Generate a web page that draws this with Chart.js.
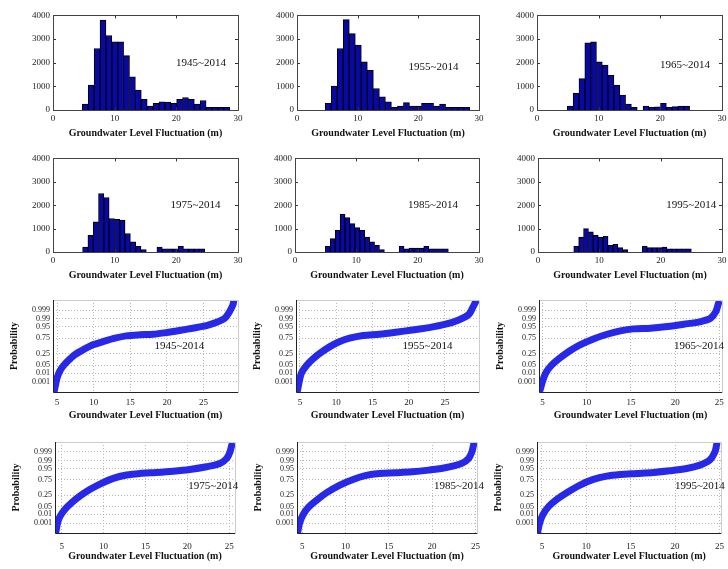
<!DOCTYPE html>
<html>
<head>
<meta charset="utf-8">
<script src="https://cdn.jsdelivr.net/npm/chart.js@4"></script>
<style>
  html, body { margin: 0; padding: 0; background: #fff; overflow: hidden; }
  #wrap { position: relative; width: 728px; height: 569px; background: #fff; }
  .panel { position: absolute; }
</style>
</head>
<body>
<div id="wrap"></div>
<script>
// periods shown in each panel
const periods = ['1945~2014', '1955~2014', '1965~2014', '1975~2014', '1985~2014', '1995~2014'];

// histogram counts (bins spread evenly between the range ends)
const hist1945 = [250, 1050, 2600, 3800, 3150, 2880, 2880, 2300, 1400, 840, 450, 170, 280, 350, 330, 280, 450, 530, 450, 250, 400, 110, 110, 110, 110];
const hist1955 = [280, 1010, 2600, 3820, 3230, 2740, 2040, 1680, 910, 560, 350, 110, 170, 310, 170, 170, 280, 280, 170, 250, 110, 110, 110, 110];
const hist1965 = [170, 700, 1330, 2840, 2880, 2040, 1900, 1470, 1050, 630, 250, 110, 0, 170, 110, 130, 280, 110, 140, 170, 170];
const hist1975 = [210, 710, 1290, 2500, 2330, 1430, 1400, 1360, 790, 430, 240, 100, 0, 0, 210, 140, 140, 140, 240, 140, 140, 140, 140];
const hist1985 = [240, 570, 930, 1610, 1470, 1210, 1040, 930, 640, 430, 290, 100, 0, 0, 0, 240, 140, 170, 170, 170, 240, 140, 140, 140, 140];
const hist1995 = [240, 640, 1000, 860, 710, 640, 670, 290, 330, 190, 100, 0, 0, 0, 240, 190, 190, 190, 210, 140, 140, 140, 140, 140];

const histRange1945 = [4.76, 28.65];
const histRange1955 = [4.65, 28.46];
const histRange1965 = [4.92, 24.75];
const histRange1975 = [4.8, 24.6];
const histRange1985 = [4.95, 25.0];
const histRange1995 = [5.83, 25.0];

const histXTicks = [0, 10, 20, 30];
const histYTicks = [0, 1000, 2000, 3000, 4000];

// normal probability plots: fluctuation (m) vs normal quantile of probability
const prob1945X = [4.59, 4.8, 5.0, 5.36, 5.8, 6.5, 7.4, 8.55, 9.9, 11.3, 12.9, 14.45, 16.3, 18.1, 19.9, 21.7, 23.5, 25.4, 26.7, 27.9, 28.5, 29.0, 29.1];
const prob1945Z = [-3.95, -3.32, -2.75, -2.18, -1.75, -1.27, -0.76, -0.33, 0.10, 0.38, 0.67, 0.87, 0.96, 1.01, 1.15, 1.33, 1.53, 1.75, 2.01, 2.38, 2.9, 3.52, 3.8];
const prob1955X = [4.63, 4.9, 5.2, 5.9, 6.8, 7.97, 9.3, 10.5, 11.85, 13.7, 15.95, 18.2, 20.5, 22.8, 25.1, 26.9, 28.3, 28.9, 29.2];
const prob1955Z = [-3.9, -3.04, -2.32, -1.67, -1.1, -0.53, 0.01, 0.38, 0.67, 0.9, 1.01, 1.18, 1.38, 1.58, 1.87, 2.24, 2.72, 3.38, 3.75];
const prob1965X = [4.68, 5.0, 5.36, 6.0, 6.96, 8.1, 9.24, 10.76, 12.3, 13.8, 15.3, 17.2, 19.1, 21.0, 22.9, 24.0, 24.6, 24.9];
const prob1965Z = [-3.9, -3.04, -2.32, -1.67, -1.04, -0.41, 0.1, 0.61, 1.01, 1.3, 1.47, 1.53, 1.67, 1.87, 2.1, 2.38, 2.95, 3.66];
const prob1975X = [4.3, 4.5, 4.8, 5.4, 6.2, 7.2, 8.4, 9.57, 11.16, 12.75, 14.34, 16.3, 18.3, 20.3, 22.3, 23.9, 24.7, 25.1, 25.3];
const prob1975Z = [-3.89, -3.09, -2.5, -1.88, -1.31, -0.73, -0.16, 0.3, 0.79, 1.08, 1.22, 1.31, 1.42, 1.57, 1.8, 2.08, 2.51, 3.09, 3.66];
const prob1985X = [4.48, 4.7, 5.1, 5.73, 6.7, 7.83, 9.35, 10.88, 12.4, 13.9, 15.8, 17.7, 19.6, 21.5, 23.4, 24.2, 24.6, 24.8];
const prob1985Z = [-3.89, -3.09, -2.37, -1.71, -1.08, -0.45, 0.21, 0.7, 1.05, 1.22, 1.28, 1.36, 1.51, 1.71, 2.08, 2.51, 3.09, 3.75];
const prob1995X = [4.5, 4.75, 5.1, 5.76, 6.7, 7.8, 9.3, 10.8, 12.3, 13.8, 15.7, 17.56, 19.4, 21.3, 22.8, 23.9, 24.5, 24.7];
const prob1995Z = [-3.95, -3.09, -2.37, -1.65, -1.02, -0.45, 0.21, 0.7, 0.99, 1.13, 1.22, 1.31, 1.45, 1.65, 1.94, 2.37, 3.09, 3.75];

const probXTicks = [5, 10, 15, 20, 25];
const probTickZ = [-3.09, -2.326, -1.645, -0.674, 0.674, 1.645, 2.326, 3.09];
const probTickLabels = ['0.001', '0.01', '0.05', '0.25', '0.75', '0.95', '0.99', '0.999'];

const serif = '"Liberation Serif", "Times New Roman", serif';
const xTitle = 'Groundwater Level Fluctuation (m)';

// plot area boxes: [left, top, right, bottom]
const panels = [
  { kind: 'hist', counts: hist1945, range: histRange1945, label: periods[0], at: [24, 1965], box: [53, 15, 238, 110], tickPad: 3 },
  { kind: 'hist', counts: hist1955, range: histRange1955, label: periods[1], at: [22.5, 1825], box: [297, 15, 479, 110], tickPad: 3 },
  { kind: 'hist', counts: hist1965, range: histRange1965, label: periods[2], at: [24, 1895], box: [537, 15, 722, 110], tickPad: 3 },
  { kind: 'hist', counts: hist1975, range: histRange1975, label: periods[3], at: [23.1, 2000], box: [53, 158, 238, 252], tickPad: 3 },
  { kind: 'hist', counts: hist1985, range: histRange1985, label: periods[4], at: [22.5, 2000], box: [295, 158, 479, 252], tickPad: 3 },
  { kind: 'hist', counts: hist1995, range: histRange1995, label: periods[5], at: [25, 2000], box: [538, 158, 722, 252], tickPad: 3 },
  { kind: 'prob', xs: prob1945X, zs: prob1945Z, xr: [4.45, 29.7], label: periods[0], at: [21.7, 0], box: [53, 300, 238, 392], tickPad: 5 },
  { kind: 'prob', xs: prob1955X, zs: prob1955Z, xr: [4.45, 29.7], label: periods[1], at: [22.6, 0], box: [296, 300, 479, 392], tickPad: 5 },
  { kind: 'prob', xs: prob1965X, zs: prob1965Z, xr: [4.6, 25.3], label: periods[2], at: [22.7, 0], box: [539, 300, 722, 392], tickPad: 5 },
  { kind: 'prob', xs: prob1975X, zs: prob1975Z, xr: [4.2, 25.7], label: periods[3], at: [23.1, 0.1], box: [55, 442, 235, 533], tickPad: 8 },
  { kind: 'prob', xs: prob1985X, zs: prob1985Z, xr: [4.4, 25.2], label: periods[4], at: [23.1, 0.1], box: [297, 442, 478, 533], tickPad: 8 },
  { kind: 'prob', xs: prob1995X, zs: prob1995Z, xr: [4.45, 25.2], label: periods[5], at: [22.8, 0.1], box: [537, 442, 722, 533], tickPad: 8 },
];

// frame, inner ticks and period label
const decorPlugin = {
  id: 'decor',
  afterDatasetsDraw(chart, args, opts) {
    const { ctx, chartArea: a, scales } = chart;
    ctx.save();
    if (opts.kind === 'hist') {
      ctx.strokeStyle = '#333';
      ctx.lineWidth = 1;
      ctx.beginPath();
      scales.x.ticks.forEach(t => {
        const px = Math.round(scales.x.getPixelForValue(t.value)) + 0.5;
        ctx.moveTo(px, a.bottom); ctx.lineTo(px, a.bottom - 3);
        ctx.moveTo(px, a.top); ctx.lineTo(px, a.top + 3);
      });
      scales.y.ticks.forEach(t => {
        const py = Math.round(scales.y.getPixelForValue(t.value)) + 0.5;
        ctx.moveTo(a.left, py); ctx.lineTo(a.left + 3, py);
        ctx.moveTo(a.right, py); ctx.lineTo(a.right - 3, py);
      });
      ctx.stroke();
      ctx.strokeStyle = '#444';
      ctx.strokeRect(Math.round(a.left) + 0.5, Math.round(a.top) + 0.5, Math.round(a.width), Math.round(a.height));
    } else {
      ctx.strokeStyle = '#ccc';
      ctx.strokeRect(Math.round(a.left) + 0.5, Math.round(a.top) + 0.5, Math.round(a.width), Math.round(a.height));
      ctx.strokeStyle = '#222';
      ctx.beginPath();
      ctx.moveTo(Math.round(a.left) + 0.5, a.top);
      ctx.lineTo(Math.round(a.left) + 0.5, Math.round(a.bottom) + 0.5);
      ctx.lineTo(a.right, Math.round(a.bottom) + 0.5);
      ctx.stroke();
    }
    ctx.fillStyle = '#111';
    ctx.font = '11px ' + serif;
    ctx.textAlign = 'center';
    ctx.textBaseline = 'middle';
    ctx.fillText(opts.label, scales.x.getPixelForValue(opts.at[0]), scales.y.getPixelForValue(opts.at[1]));
    ctx.restore();
  }
};

function makePanel(p) {
  const yW = p.kind === 'hist' ? 40 : 45;
  const padT = 8, padR = 10, xH = 29;
  const [l, t, r, b] = p.box;
  const w = yW + (r - l) + padR;
  const h = padT + (b - t) + xH;

  const div = document.createElement('div');
  div.className = 'panel';
  div.style.left = (l - yW) + 'px';
  div.style.top = (t - padT) + 'px';
  div.style.width = w + 'px';
  div.style.height = h + 'px';
  const canvas = document.createElement('canvas');
  canvas.width = w;
  canvas.height = h;
  div.appendChild(canvas);
  document.getElementById('wrap').appendChild(div);

  const tickFont = { family: serif, size: 9 };
  const titleFont = { family: serif, size: 10, weight: 'bold' };
  let dataset, xScale, yScale;

  if (p.kind === 'hist') {
    const binW = (p.range[1] - p.range[0]) / p.counts.length;
    dataset = {
      data: p.counts.map((c, i) => ({ x: p.range[0] + (i + 0.5) * binW, y: c })),
      backgroundColor: 'rgb(8,8,165)',
      borderColor: '#000',
      borderWidth: 1,
      barPercentage: 1,
      categoryPercentage: 1,
    };
    xScale = {
      type: 'linear', min: 0, max: 30, offset: false,
      afterBuildTicks: s => { s.ticks = histXTicks.map(v => ({ value: v })); },
      grid: { display: false, offset: false, drawTicks: false },
      border: { display: false },
      ticks: { font: tickFont, color: '#222', padding: p.tickPad, maxRotation: 0, callback: v => String(v) },
    };
    yScale = {
      type: 'linear', min: 0, max: 4000,
      afterBuildTicks: s => { s.ticks = histYTicks.map(v => ({ value: v })); },
      grid: { display: false, drawTicks: false },
      border: { display: false },
      ticks: { font: tickFont, color: '#222', padding: 3, callback: v => String(v) },
      afterFit: s => { s.width = yW; },
    };
  } else {
    dataset = {
      data: p.xs.map((x, i) => ({ x: x, y: p.zs[i] })),
      borderColor: 'rgb(40,40,232)',
      borderWidth: 7,
      borderCapStyle: 'round',
      borderJoinStyle: 'round',
      pointRadius: 0,
      tension: 0.3,
      fill: false,
    };
    xScale = {
      type: 'linear', min: p.xr[0], max: p.xr[1],
      afterBuildTicks: s => { s.ticks = probXTicks.map(v => ({ value: v })); },
      grid: { color: '#b8b8b8', drawTicks: false },
      border: { display: false, dash: [1, 2] },
      ticks: { font: tickFont, color: '#222', padding: p.tickPad, maxRotation: 0, callback: v => String(v) },
    };
    yScale = {
      type: 'linear', min: -3.95, max: 3.95,
      afterBuildTicks: s => { s.ticks = probTickZ.map(v => ({ value: v })); },
      grid: { color: '#b8b8b8', drawTicks: false },
      border: { display: false, dash: [1, 2] },
      ticks: {
        font: { family: serif, size: 8 }, color: '#222', padding: 3, autoSkip: false,
        callback: (v, i) => probTickLabels[i],
      },
      title: { display: true, text: 'Probability', font: titleFont, color: '#111', padding: 0 },
      afterFit: s => { s.width = yW; },
    };
  }
  xScale.title = { display: true, text: xTitle, font: titleFont, color: '#111', padding: 0 };
  xScale.afterFit = s => { s.height = xH; };

  new Chart(canvas, {
    type: p.kind === 'hist' ? 'bar' : 'line',
    data: { datasets: [dataset] },
    options: {
      responsive: false,
      animation: false,
      layout: { padding: { top: padT, right: padR, left: 0, bottom: 0 } },
      plugins: {
        legend: { display: false },
        tooltip: { enabled: false },
        decor: { kind: p.kind, label: p.label, at: p.at },
      },
      scales: { x: xScale, y: yScale },
    },
    plugins: [decorPlugin],
  });
}

panels.forEach(makePanel);
</script>
</body>
</html>
